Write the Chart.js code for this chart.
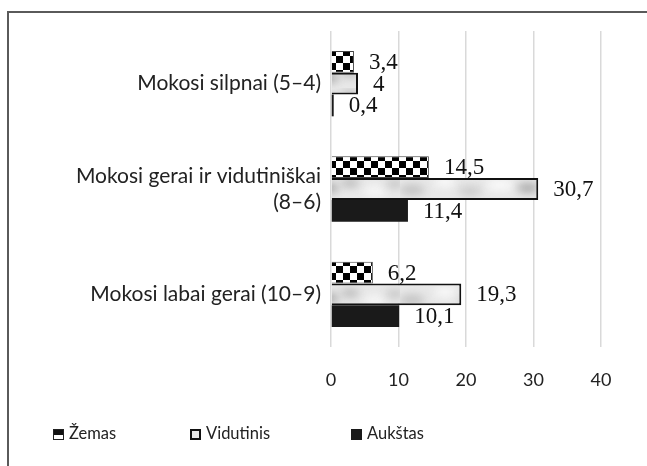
<!DOCTYPE html>
<html>
<head>
<meta charset="utf-8">
<script src="https://cdn.jsdelivr.net/npm/chart.js@4.4.0/dist/chart.umd.min.js"></script>
<style>
  html, body { margin: 0; padding: 0; background: #fff; }
  #wrap { position: relative; width: 647px; height: 466px; overflow: hidden; }
  #frame { position: absolute; left: 7px; top: 11px; width: 700px; height: 500px; border: 2px solid #5a5a5a; box-sizing: border-box; }
  #chart { position: absolute; left: 0; top: 0; }
  .leg { position: absolute; top: 423px; font: 16.5px Lato, sans-serif; color: #222; white-space: nowrap; line-height: 20px; }
  .leg i { display: inline-block; width: 11px; height: 11px; box-sizing: border-box; margin-right: 5px; vertical-align: -1px; }
</style>
</head>
<body>
<div id="wrap">
  <div id="frame"></div>
  <canvas id="chart" width="647" height="466"></canvas>
  <div class="leg" style="left:53px"><i style="border:1.5px solid #222;background:linear-gradient(#111 0 55%, #fff 55%)"></i>Žemas</div>
  <div class="leg" style="left:190px"><i style="border:2px solid #111;background:#e8e8e8"></i>Vidutinis</div>
  <div class="leg" style="left:351px"><i style="background:#1a1a1a"></i>Aukštas</div>
</div>
<script>
const categories = [['Mokosi silpnai (5–4)'], ['Mokosi gerai ir vidutiniškai', '(8–6)'], ['Mokosi labai gerai (10–9)']];
const zemas = [3.4, 14.5, 6.2];
const vidutinis = [4, 30.7, 19.3];
const aukstas = [0.4, 11.4, 10.1];
const xTicks = [0, 10, 20, 30, 40];

const ctx = document.getElementById('chart').getContext('2d');

// checkerboard for "Žemas"
function checker() {
    const c = document.createElement('canvas');
    c.width = 14; c.height = 14;
    const g = c.getContext('2d');
    g.fillStyle = '#fff';
    g.fillRect(0, 0, 14, 14);
    g.fillStyle = '#000';
    g.fillRect(0, 0, 7, 7);
    g.fillRect(7, 7, 7, 7);
    return ctx.createPattern(c, 'repeat');
}

// light marble-like grey for "Vidutinis"
function marble() {
    const c = document.createElement('canvas');
    c.width = 200; c.height = 22;
    const g = c.getContext('2d');
    g.fillStyle = '#e8e8e8';
    g.fillRect(0, 0, 200, 22);
    g.filter = 'blur(4px)';
    const spots = [[12, 14, 12, '#c4c4c4'], [45, 6, 10, '#fafafa'], [70, 15, 11, '#cccccc'],
                   [100, 9, 13, '#f8f8f8'], [128, 12, 10, '#a8a8a8'], [150, 7, 9, '#bababa'],
                   [175, 15, 11, '#f6f6f6'], [195, 8, 9, '#c6c6c6']];
    spots.forEach(([x, y, r, col]) => {
        g.save();
        g.translate(x, y);
        g.scale(1.8, 0.8);
        g.fillStyle = col;
        g.beginPath();
        g.arc(0, 0, r * 0.6, 0, Math.PI * 2);
        g.fill();
        g.restore();
    });
    return ctx.createPattern(c, 'repeat');
}

const valueLabels = {
    id: 'valueLabels',
    afterDatasetsDraw(chart) {
        const c = chart.ctx;
        c.save();
        c.font = '23px "Liberation Serif", "Times New Roman", serif';
        c.fillStyle = '#111';
        c.textAlign = 'left';
        c.textBaseline = 'middle';
        chart.data.datasets.forEach((ds, i) => {
            chart.getDatasetMeta(i).data.forEach((bar, j) => {
                c.fillText(String(ds.data[j]).replace('.', ','), bar.x + 15, bar.y + 1);
            });
        });
        c.restore();
    }
};

new Chart(ctx, {
    type: 'bar',
    data: {
        labels: categories,
        datasets: [{
            label: 'Žemas',
            data: zemas,
            backgroundColor: checker(),
            borderColor: '#444',
            borderWidth: 1,
        }, {
            label: 'Vidutinis',
            data: vidutinis,
            backgroundColor: marble(),
            borderColor: '#111',
            borderWidth: 2,
        }, {
            label: 'Aukštas',
            data: aukstas,
            backgroundColor: '#1a1a1a',
            borderWidth: 0,
        }]
    },
    options: {
        indexAxis: 'y',
        responsive: false,
        animation: false,
        categoryPercentage: 0.62,
        barPercentage: 1,
        layout: { padding: { top: 31, right: 46, left: 0, bottom: 0 } },
        scales: {
            x: {
                min: 0,
                max: 40,
                afterBuildTicks: (s) => { s.ticks = xTicks.map(v => ({ value: v })); },
                afterFit: (s) => { s.height = 119; },
                border: { display: false },
                grid: { color: '#d9d9d9', lineWidth: 1.5, drawTicks: false },
                ticks: { padding: 22, color: '#222', font: { family: 'Lato', size: 18 } }
            },
            y: {
                afterFit: (s) => { s.width = 331; },
                border: { display: false },
                grid: { display: false, drawTicks: false },
                ticks: { padding: 10, color: '#222', font: { family: 'Lato', size: 21, lineHeight: 1.24 } }
            }
        },
        plugins: {
            legend: { display: false },
            tooltip: { enabled: false }
        }
    },
    plugins: [valueLabels]
});
</script>
</body>
</html>
